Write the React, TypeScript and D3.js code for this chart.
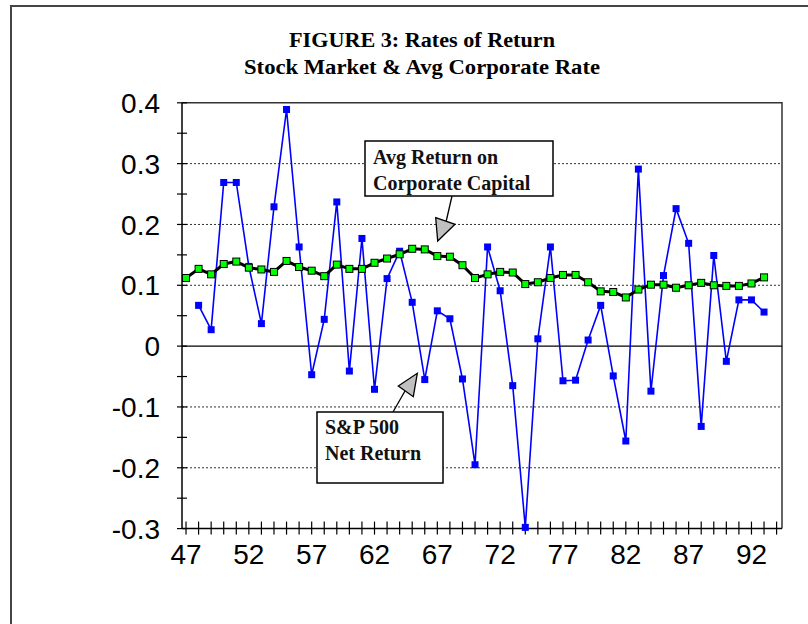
import React, { useEffect, useRef } from "react";
import * as d3 from "d3";

const years = d3.range(47, 94);
const corpReturn = [
  0.112, 0.127, 0.118, 0.135, 0.139, 0.129, 0.126, 0.122, 0.14, 0.13,
  0.124, 0.115, 0.134, 0.127, 0.127, 0.137, 0.144, 0.151, 0.16, 0.159,
  0.148, 0.147, 0.133, 0.112, 0.118, 0.122, 0.121, 0.102, 0.105, 0.112,
  0.117, 0.117, 0.105, 0.09, 0.089, 0.08, 0.093, 0.101, 0.101, 0.096,
  0.1, 0.104, 0.1, 0.099, 0.099, 0.103, 0.113,
];
const spYears = d3.range(48, 94);
const spReturn = [
  0.067, 0.027, 0.269, 0.269, 0.131, 0.037, 0.229, 0.389, 0.163, -0.047,
  0.044, 0.237, -0.041, 0.177, -0.071, 0.111, 0.156, 0.072, -0.055, 0.058,
  0.045, -0.054, -0.195, 0.163, 0.091, -0.065, -0.298, 0.012, 0.163, -0.057,
  -0.056, 0.01, 0.067, -0.049, -0.156, 0.291, -0.074, 0.116, 0.226, 0.169,
  -0.132, 0.149, -0.025, 0.076, 0.076, 0.056,
];
const yTicks = [0.4, 0.3, 0.2, 0.1, 0, -0.1, -0.2, -0.3];
const xLabelYears = [47, 52, 57, 62, 67, 72, 77, 82, 87, 92];
const titleLines = ["FIGURE 3: Rates of Return", "Stock Market & Avg Corporate Rate"];

export default function App() {
  const svgRef = useRef<SVGSVGElement | null>(null);

  useEffect(() => {
    if (!svgRef.current) return;
    const svg = d3.select(svgRef.current);
    svg.selectAll("*").remove();

    const serif = "'Liberation Serif', 'Times New Roman', serif";
    const sans = "'Liberation Sans', Arial, sans-serif";

    const x = d3.scaleLinear().domain([46.68, 94.43]).range([182, 782]);
    const y = d3.scaleLinear().domain([-0.3, 0.4]).range([528.6, 102.8]);

    // outer frame (cropped on right and bottom)
    svg.append("path")
      .attr("d", "M11,630 L11,6 L815,6")
      .attr("fill", "none")
      .attr("stroke", "#444")
      .attr("stroke-width", 2);

    // title
    titleLines.forEach((t, i) => {
      svg.append("text")
        .attr("x", 422)
        .attr("y", 47 + i * 27)
        .attr("text-anchor", "middle")
        .attr("font-family", serif)
        .attr("font-weight", "bold")
        .attr("font-size", 21)
        .attr("textLength", i === 0 ? 266 : 356)
        .attr("lengthAdjust", "spacingAndGlyphs")
        .text(t);
    });

    // gridlines
    svg.append("g")
      .selectAll("line")
      .data(yTicks.filter(v => v !== 0 && v !== 0.4 && v !== -0.3))
      .enter()
      .append("line")
      .attr("x1", 182).attr("x2", 782)
      .attr("y1", d => y(d)).attr("y2", d => y(d))
      .attr("stroke", "#333")
      .attr("stroke-width", 1)
      .attr("stroke-dasharray", "2,2");

    // plot border top/right
    svg.append("path")
      .attr("d", `M182,${y(0.4)} L782,${y(0.4)} L782,${y(-0.3)}`)
      .attr("fill", "none")
      .attr("stroke", "#333")
      .attr("stroke-width", 1.5);

    // zero line
    svg.append("line")
      .attr("x1", 182).attr("x2", 782)
      .attr("y1", y(0)).attr("y2", y(0))
      .attr("stroke", "#000")
      .attr("stroke-width", 1.3);

    // y axis
    svg.append("line")
      .attr("x1", 182).attr("x2", 182)
      .attr("y1", y(0.4)).attr("y2", y(-0.3))
      .attr("stroke", "#000").attr("stroke-width", 1.5);
    const minor = d3.range(-0.3, 0.401, 0.05);
    svg.append("g")
      .selectAll("line")
      .data(minor)
      .enter()
      .append("line")
      .attr("x1", 177).attr("x2", 187)
      .attr("y1", d => y(d)).attr("y2", d => y(d))
      .attr("stroke", "#000").attr("stroke-width", 1.2);
    svg.append("g")
      .selectAll("text")
      .data(yTicks)
      .enter()
      .append("text")
      .attr("x", 160)
      .attr("y", d => y(d))
      .attr("dy", "0.36em")
      .attr("text-anchor", "end")
      .attr("font-family", sans)
      .attr("font-size", 28)
      .text(d => (d === 0 ? "0" : String(d)));

    // x axis
    svg.append("line")
      .attr("x1", 182).attr("x2", 782)
      .attr("y1", y(-0.3)).attr("y2", y(-0.3))
      .attr("stroke", "#000").attr("stroke-width", 1.5);
    svg.append("g")
      .selectAll("line")
      .data(d3.range(47, 95))
      .enter()
      .append("line")
      .attr("x1", d => x(d)).attr("x2", d => x(d))
      .attr("y1", y(-0.3) - 7).attr("y2", y(-0.3) + 6)
      .attr("stroke", "#000").attr("stroke-width", 1.2);
    svg.append("g")
      .selectAll("text")
      .data(xLabelYears)
      .enter()
      .append("text")
      .attr("x", d => x(d))
      .attr("y", 564)
      .attr("text-anchor", "middle")
      .attr("font-family", sans)
      .attr("font-size", 28)
      .text(d => String(d));

    // S&P series
    const spData = spYears.map((yr, i) => ({ yr, v: spReturn[i] }));
    const line = d3.line<{ yr: number; v: number }>()
      .x(d => x(d.yr))
      .y(d => y(d.v));
    svg.append("path")
      .datum(spData)
      .attr("fill", "none")
      .attr("stroke", "#0000ff")
      .attr("stroke-width", 1.6)
      .attr("d", line);
    svg.append("g")
      .selectAll("rect")
      .data(spData)
      .enter()
      .append("rect")
      .attr("x", d => x(d.yr) - 3.5)
      .attr("y", d => y(d.v) - 3.5)
      .attr("width", 7).attr("height", 7)
      .attr("fill", "#0000ff");

    // corporate series
    const corpData = years.map((yr, i) => ({ yr, v: corpReturn[i] }));
    svg.append("path")
      .datum(corpData)
      .attr("fill", "none")
      .attr("stroke", "#000")
      .attr("stroke-width", 3)
      .attr("stroke-linejoin", "round")
      .attr("d", line);
    svg.append("g")
      .selectAll("rect")
      .data(corpData)
      .enter()
      .append("rect")
      .attr("x", d => x(d.yr) - 3.5)
      .attr("y", d => y(d.v) - 3.5)
      .attr("width", 7).attr("height", 7)
      .attr("fill", "#00ff00")
      .attr("stroke", "#000")
      .attr("stroke-width", 1);

    // callouts
    const callout = (
      box: [number, number, number, number],
      lines: string[],
      baseline: number,
      lineFrom: [number, number],
      lineTo: [number, number],
      tri: [number, number][]
    ) => {
      svg.append("line")
        .attr("x1", lineFrom[0]).attr("y1", lineFrom[1])
        .attr("x2", lineTo[0]).attr("y2", lineTo[1])
        .attr("stroke", "#000").attr("stroke-width", 1.3);
      svg.append("polygon")
        .attr("points", tri.map(p => p.join(",")).join(" "))
        .attr("fill", "#c0c0c0")
        .attr("stroke", "#000")
        .attr("stroke-width", 1.3);
      svg.append("rect")
        .attr("x", box[0]).attr("y", box[1])
        .attr("width", box[2]).attr("height", box[3])
        .attr("fill", "#fff")
        .attr("stroke", "#000")
        .attr("stroke-width", 1.5);
      lines.forEach((t, i) => {
        svg.append("text")
          .attr("x", box[0] + 8)
          .attr("y", baseline + i * 26)
          .attr("font-family", serif)
          .attr("font-weight", "bold")
          .attr("font-size", 20)
          .attr("fill", "#111")
          .text(t);
      });
    };

    callout(
      [365, 141, 188, 55],
      ["Avg Return on", "Corporate Capital"],
      164,
      [452, 196],
      [446, 222],
      [[435.7, 217.7], [455, 224.3], [437.7, 241]]
    );
    callout(
      [317, 412, 126, 71],
      ["S&P 500", "Net Return"],
      434,
      [393, 412],
      [405, 391],
      [[398.3, 386], [417.3, 373.3], [413.3, 396.7]]
    );
  }, []);

  return (
    <div style={{ position: "absolute", left: 0, top: 0, width: 808, height: 624, background: "#fff" }}>
      <svg ref={svgRef} width={808} height={624} style={{ display: "block" }} />
    </div>
  );
}
